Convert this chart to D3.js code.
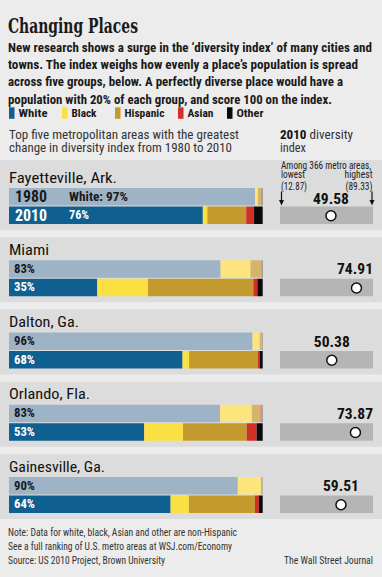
<!DOCTYPE html>
<html><head><meta charset="utf-8">
<script src="https://cdn.jsdelivr.net/npm/d3@7"></script>
<style>
html,body{margin:0;padding:0;background:#ececec;}
svg{display:block;}
</style></head>
<body>
<script>
// ---------- DATA ----------
const cities = ["Fayetteville, Ark.", "Miami", "Dalton, Ga.", "Orlando, Fla.", "Gainesville, Ga."];
const groups = ["White", "Black", "Hispanic", "Asian", "Other"];
const years = ["1980", "2010"];
// share of population (%) per group: White, Black, Hispanic, Asian, Other
const share1980 = [
  [97.0, 1.1, 1.2, 0.2, 0.5],
  [83.4, 11.8, 4.2, 0.3, 0.3],
  [96.0, 2.8, 0.9, 0.1, 0.2],
  [83.2, 12.5, 3.3, 0.6, 0.4],
  [90.2, 9.1, 0.5, 0.1, 0.1]
];
const share2010 = [
  [76.4, 1.8, 15.3, 3.1, 3.4],
  [34.8, 20.0, 41.5, 1.6, 2.1],
  [68.4, 2.6, 27.1, 0.8, 1.1],
  [53.3, 15.3, 25.1, 3.9, 2.4],
  [63.7, 7.2, 26.0, 1.6, 1.5]
];
const diversity2010 = [49.58, 74.91, 50.38, 73.87, 59.51];
const diversityLowest = 12.87;
const diversityHighest = 89.33;
const metroCount = 366;

const title = "Changing Places";
const intro = [
  "New research shows a surge in the \u2018diversity index\u2019 of many cities and",
  "towns. The index weighs how evenly a place\u2019s population is spread",
  "across five groups, below. A perfectly diverse place would have a",
  "population with 20% of each group, and score 100 on the index."
];
const subtitle = ["Top five metropolitan areas with the greatest", "change in diversity index from 1980 to 2010"];
const notes = [
  "Note: Data for white, black, Asian and other are non-Hispanic",
  "See a full ranking of U.S. metro areas at WSJ.com/Economy",
  "Source: US 2010 Project, Brown University"
];
const credit = "The Wall Street Journal";

// ---------- STYLE ----------
const W = 382, H = 577;
const SANS = "'Liberation Sans Narrow','Roboto Condensed','DejaVu Sans Condensed',Roboto,'Noto Sans',sans-serif";
const SERIF = "'DejaVu Serif','Liberation Serif',serif";
const color2010 = d3.scaleOrdinal().domain(groups).range(["#0f5f90", "#fbe043", "#c49a2e", "#d22f27", "#0a0a0a"]);
const color1980 = d3.scaleOrdinal().domain(groups).range(["#9fb3c6", "#fde57e", "#d7b46c", "#df8a78", "#8a8a8a"]);

const svg = d3.select("body").append("svg").attr("width", W).attr("height", H);
svg.append("rect").attr("width", W).attr("height", H).attr("fill", "#ececec");

function fit(sel, w) {
  sel.attr("textLength", w).attr("lengthAdjust", "spacingAndGlyphs");
  return sel;
}
function txt(x, y, s, size, opts = {}) {
  const t = svg.append("text").attr("x", x).attr("y", y).text(s)
    .attr("font-family", opts.family || SANS)
    .attr("font-size", size)
    .attr("font-weight", opts.weight || "normal")
    .attr("fill", opts.fill || "#111")
    .attr("text-anchor", opts.anchor || "start");
  if (opts.w) fit(t, opts.w);
  return t;
}

// ---------- HEADER ----------
txt(8, 33, title, 20, { family: SERIF, weight: "bold", w: 130, fill: "#1a1a1a" });
const introW = [364, 350, 335, 324];
intro.forEach((s, i) => txt(8, 51.8 + i * 17.3, s, 13, { weight: "bold", w: introW[i], fill: "#1a1a1a" }));

// legend
const legX = [9, 62, 115, 178, 227];
const legW = [29, 25, 40, 26, 27];
groups.forEach((g, i) => {
  svg.append("rect").attr("x", legX[i]).attr("y", 107.3).attr("width", 5.5).attr("height", 11.5).attr("fill", color2010(g));
  txt(legX[i] + 9.5, 116.8, g, 11.5, { weight: "bold", w: legW[i], fill: "#1a1a1a" });
});

// subtitle
txt(9, 139, subtitle[0], 12, { w: 230, fill: "#333" });
txt(9, 152.3, subtitle[1], 12, { w: 223, fill: "#333" });
const dt = svg.append("text").attr("x", 280).attr("y", 139).attr("font-family", SANS).attr("font-size", 12).attr("fill", "#333");
dt.append("tspan").attr("font-weight", "bold").attr("fill", "#111").text("2010");
dt.append("tspan").text(" diversity");
fit(dt, 73);
txt(280, 152.3, "index", 12, { w: 26, fill: "#333" });

// ---------- PANELS ----------
const x = d3.scaleLinear().domain([0, 100]).range([9, 262.7]);
const g = d3.scaleLinear().domain([diversityLowest, diversityHighest]).range([294, 371]);
const gaugeX0 = 280, gaugeX1 = 373;
const step = 72.25, firstBar = 188, barH = 17.5, gap = 1;
const cityW = [108, 40, 70, 81, 96];

cities.forEach((c, i) => {
  const y0 = firstBar + i * step;
  const top = i === 0 ? y0 - 28 : y0 - 23;
  svg.append("rect").attr("x", 0).attr("y", top).attr("width", W).attr("height", y0 + 42 - top).attr("fill", "#dcdcdc");
  txt(9, y0 - 5.5, c, 15.5, { w: cityW[i], fill: "#111" });

  [share1980[i], share2010[i]].forEach((vals, r) => {
    const yy = y0 + r * (barH + gap);
    const col = r === 0 ? color1980 : color2010;
    let cum = 0;
    const segs = vals.map((v, k) => { const s = { g: groups[k], a: cum, b: cum + v }; cum += v; return s; });
    svg.append("g").selectAll("rect").data(segs).join("rect")
      .attr("x", d => x(d.a)).attr("y", yy)
      .attr("width", d => Math.max(0, x(d.b) - x(d.a)))
      .attr("height", barH)
      .attr("fill", d => col(d.g));
    const pct = d3.format(".0f")(vals[0]) + "%";
    const labelFill = r === 0 ? "#1a1a1a" : "#ffffff";
    if (i === 0) {
      txt(15, yy + 14, years[r], 16.5, { weight: "bold", w: 32, fill: labelFill });
      const lab = r === 0 ? "White: " + pct : pct;
      txt(69, yy + 12.5, lab, 12, { weight: "bold", w: r === 0 ? 59 : 20, fill: labelFill });
    } else {
      txt(14, yy + 12.5, pct, 12, { weight: "bold", w: 21, fill: labelFill });
    }
  });

  // gauge
  const gy = y0 + barH + gap;
  svg.append("rect").attr("x", gaugeX0).attr("y", gy).attr("width", gaugeX1 - gaugeX0).attr("height", barH).attr("fill", "#b5b5b5");
  const cx = g(diversity2010[i]);
  svg.append("circle").attr("cx", cx).attr("cy", gy + barH / 2 + 0.5).attr("r", 5)
    .attr("fill", "#fff").attr("stroke", "#111").attr("stroke-width", 1.5);
  const valStr = d3.format(".2f")(diversity2010[i]);
  const vw = 36;
  const vx = Math.min(cx, gaugeX1 - vw / 2);
  txt(vx, y0 + (i === 0 ? 16 : 14), valStr, 14.5, { weight: "bold", anchor: "middle", w: vw, fill: "#111" });

  if (i === 0) {
    txt(281, 168.5, `Among ${metroCount} metro areas,`, 10, { w: 90, fill: "#222" });
    txt(281, 178, "lowest", 10, { w: 24, fill: "#222" });
    txt(372.5, 178, "highest", 10, { anchor: "end", w: 28, fill: "#222" });
    txt(281, 189.5, "(" + diversityLowest.toFixed(2) + ")", 10, { w: 26, fill: "#222" });
    txt(372.5, 189.5, "(" + diversityHighest.toFixed(2) + ")", 10, { anchor: "end", w: 27, fill: "#222" });
    [281.5, 372].forEach(ax => {
      svg.append("line").attr("x1", ax).attr("x2", ax).attr("y1", 191.5).attr("y2", 201).attr("stroke", "#111").attr("stroke-width", 1.2);
      svg.append("path").attr("d", `M${ax - 2.5},200 L${ax + 2.5},200 L${ax},205.5 Z`).attr("fill", "#111");
    });
  }
});

// ---------- FOOTER ----------
txt(8, 536, notes[0], 10.5, { w: 229, fill: "#333" });
txt(8, 550, notes[1], 10.5, { w: 224, fill: "#333" });
txt(8, 564, notes[2], 10.5, { w: 157, fill: "#333" });
txt(373, 564, credit, 10.5, { anchor: "end", w: 89, fill: "#333" });
</script>
</body></html>
